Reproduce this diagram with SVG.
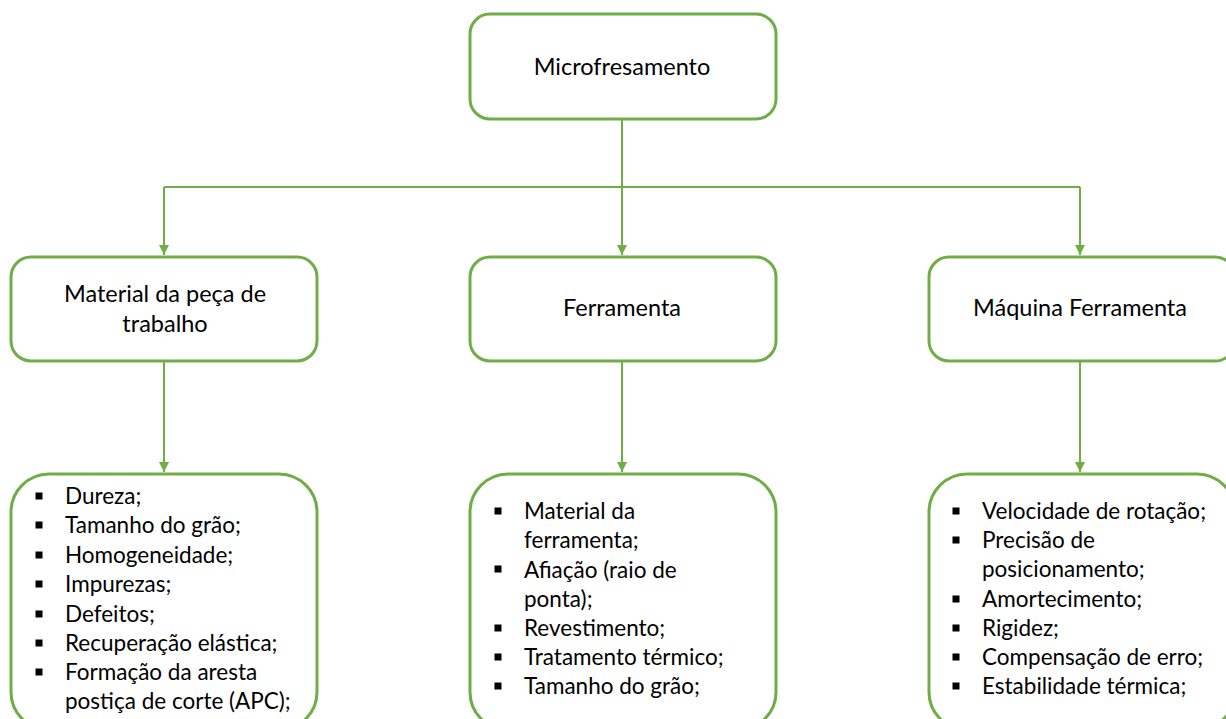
<svg xmlns="http://www.w3.org/2000/svg" width="1226" height="719" viewBox="0 0 1226 719">
  <style>
    .box { fill: #ffffff; stroke: #70ad47; stroke-width: 3; }
    .conn { fill: none; stroke: #70ad47; stroke-width: 2; }
    .t { font-family: Lato, "Open Sans", sans-serif; font-size: 22.5px; fill: #000000; }
    .h { font-size: 23.5px; }
    .c { text-anchor: middle; }
    .b { fill: #000000; }
  </style>
  <defs>
    <marker id="arrow" viewBox="0 0 10 10" refX="10" refY="5" markerWidth="5" markerHeight="5" orient="auto" markerUnits="strokeWidth">
      <path d="M0,0 L10,5 L0,10 z" fill="#70ad47"/>
    </marker>
    <g id="bullet"><rect x="-3.5" y="-3.5" width="7" height="7"/></g>
  </defs>
  <rect width="1226" height="719" fill="#ffffff"/>

  <g id="connectors">
    <path class="conn" d="M622,120 V255" marker-end="url(#arrow)"/>
    <path class="conn" d="M164,187 H1080"/>
    <path class="conn" d="M164,187 V255" marker-end="url(#arrow)"/>
    <path class="conn" d="M1080,187 V255" marker-end="url(#arrow)"/>
    <path class="conn" d="M164,361 V472" marker-end="url(#arrow)"/>
    <path class="conn" d="M622,361 V472" marker-end="url(#arrow)"/>
    <path class="conn" d="M1080,362 V472" marker-end="url(#arrow)"/>
  </g>

  <g id="microfresamento">
    <rect class="box" x="470" y="14" width="306" height="105" rx="20"/>
    <text class="t h c" x="622" y="75">Microfresamento</text>
  </g>

  <g id="material-peca">
    <rect class="box" x="11" y="257" width="306" height="104" rx="20"/>
    <text class="t h c" x="165" y="302">Material da peça de</text>
    <text class="t h c" x="165" y="332">trabalho</text>
  </g>

  <g id="ferramenta">
    <rect class="box" x="470" y="257" width="306" height="104" rx="20"/>
    <text class="t h c" x="622" y="316">Ferramenta</text>
  </g>

  <g id="maquina-ferramenta">
    <rect class="box" x="929" y="257" width="306" height="104" rx="20"/>
    <text class="t h c" x="1080" y="316">Máquina Ferramenta</text>
  </g>

  <g id="lista-material">
    <rect class="box" x="11" y="474" width="306" height="256" rx="38"/>
    <g class="b">
      <use href="#bullet" x="39" y="496"/>
      <use href="#bullet" x="39" y="525"/>
      <use href="#bullet" x="39" y="555"/>
      <use href="#bullet" x="39" y="584"/>
      <use href="#bullet" x="39" y="614"/>
      <use href="#bullet" x="39" y="643"/>
      <use href="#bullet" x="39" y="672"/>
    </g>
    <text class="t" x="65" y="504">Dureza;</text>
    <text class="t" x="65" y="533">Tamanho do grão;</text>
    <text class="t" x="65" y="563">Homogeneidade;</text>
    <text class="t" x="65" y="592">Impurezas;</text>
    <text class="t" x="65" y="622">Defeitos;</text>
    <text class="t" x="65" y="651">Recuperação elástica;</text>
    <text class="t" x="65" y="680">Formação da aresta</text>
    <text class="t" x="65" y="709">postiça de corte (APC);</text>
  </g>

  <g id="lista-ferramenta">
    <rect class="box" x="470" y="474" width="306" height="256" rx="38"/>
    <g class="b">
      <use href="#bullet" x="498" y="511"/>
      <use href="#bullet" x="498" y="569"/>
      <use href="#bullet" x="498" y="628"/>
      <use href="#bullet" x="498" y="657"/>
      <use href="#bullet" x="498" y="686"/>
    </g>
    <text class="t" x="524" y="519">Material da</text>
    <text class="t" x="524" y="548">ferramenta;</text>
    <text class="t" x="524" y="578">Afiação (raio de</text>
    <text class="t" x="524" y="607">ponta);</text>
    <text class="t" x="524" y="636">Revestimento;</text>
    <text class="t" x="524" y="665">Tratamento térmico;</text>
    <text class="t" x="524" y="694">Tamanho do grão;</text>
  </g>

  <g id="lista-maquina">
    <rect class="box" x="929" y="474" width="306" height="256" rx="38"/>
    <g class="b">
      <use href="#bullet" x="956" y="511"/>
      <use href="#bullet" x="956" y="540"/>
      <use href="#bullet" x="956" y="599"/>
      <use href="#bullet" x="956" y="628"/>
      <use href="#bullet" x="956" y="657"/>
      <use href="#bullet" x="956" y="686"/>
    </g>
    <text class="t" x="982" y="519">Velocidade de rotação;</text>
    <text class="t" x="982" y="548">Precisão de</text>
    <text class="t" x="982" y="577">posicionamento;</text>
    <text class="t" x="982" y="607">Amortecimento;</text>
    <text class="t" x="982" y="636">Rigidez;</text>
    <text class="t" x="982" y="665">Compensação de erro;</text>
    <text class="t" x="982" y="694">Estabilidade térmica;</text>
  </g>
</svg>
